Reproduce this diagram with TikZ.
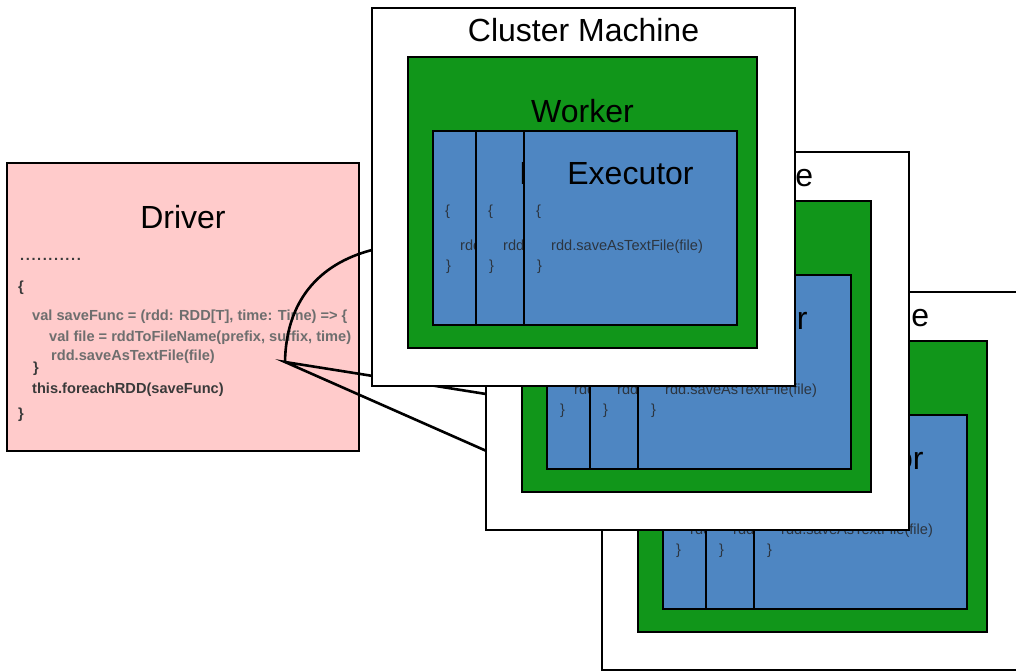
\documentclass[tikz,border=0pt]{standalone}
\usepackage{fontspec}
\setmainfont{Liberation Sans}
\definecolor{driverpink}{HTML}{FFCBCB}
\definecolor{workergreen}{HTML}{11961A}
\definecolor{execblue}{HTML}{4E86C2}
\definecolor{codegray}{HTML}{6E6E6E}
\definecolor{codedark}{HTML}{3A3A3A}
\definecolor{exectext}{HTML}{2C3540}

% one cluster machine: outer box, worker, three stacked executors
% #1 name prefix, #2 x, #3 y of the top left corner
\newcommand\clustermachine[3]{%
  \begin{scope}[shift={(#2,#3)}]
    \node[machinebox] (#1) at (0,0) {};
    \node[titletext] (#1-title) at (211.5,34) {Cluster Machine};
    \node[workerbox] (#1-w) at (36,49) {};
    \node[titletext] (#1-wtitle) at (210.5,115) {Worker};
    \executorpanel{#1-ea}{61}{123}
    \executorpanel{#1-eb}{104}{123}
    \executorpanel{#1-ec}{152}{123}
  \end{scope}}

% one executor panel with its code
\newcommand\executorpanel[3]{%
  \node[execbox] (#1) at (#2,#3) {};
  \node[titletext] (#1-title) at ([xshift=106.5pt,yshift=-54pt]#1.north west) {Executor};
  \node[exectextstyle] (#1-open) at ([xshift=12pt,yshift=-84pt]#1.north west) {\{};
  \node[exectextstyle] (#1-call) at ([xshift=27pt,yshift=-119pt]#1.north west) {rdd.saveAsTextFile(file)};
  \node[exectextstyle] (#1-close) at ([xshift=13pt,yshift=-139pt]#1.north west) {\}};}

% a row of widely spaced dots
\newcommand\dotrow{.\kern1.6pt.\kern1.6pt.\kern1.6pt.\kern1.6pt.\kern1.6pt.\kern1.6pt.\kern1.6pt.\kern1.6pt.\kern1.6pt.\kern1.6pt.}

\begin{document}
\begin{tikzpicture}[x=1pt,y=-1pt,
  box/.style={draw=black, line width=2.6pt, inner sep=0pt, outer sep=0pt, anchor=north west},
  machinebox/.style={box, fill=white, minimum width=423pt, minimum height=378pt},
  workerbox/.style={box, fill=workergreen, minimum width=349pt, minimum height=291pt},
  execbox/.style={box, fill=execblue, minimum width=213pt, minimum height=194pt},
  driverbox/.style={box, fill=driverpink, minimum width=352pt, minimum height=288pt},
  titletext/.style={anchor=base, inner sep=0pt, font=\fontsize{32}{36}\selectfont},
  exectextstyle/.style={anchor=base west, inner sep=0pt, text=exectext, font=\fontsize{14.6}{17}\selectfont},
  code/.style={anchor=base west, inner sep=0pt, text=codegray, font=\bfseries\fontsize{14.6}{17}\selectfont},
  codedk/.style={code, text=codedark},
  link/.style={draw=black, line width=2.6pt}]

\useasboundingbox (0,0) rectangle (1016,671);
\fill[white] (0,0) rectangle (1016,671);

% driver program
\node[driverbox] (driver) at (7,163) {};
\node[titletext] (driver-title) at (183,228) {Driver};
\node[codedk] (c1) at (20,260) {\dotrow};
\node[codedk] (c2) at (18,291) {\{};
\node[code] (c3) at (32,320) {val saveFunc = (rdd: RDD[T], time: Time) => \{};
\node[code] (c4) at (49,341) {val file = rddToFileName(prefix, suffix, time)};
\node[code] (c5) at (51,360) {rdd.saveAsTextFile(file)};
\node[codedk] (c6) at (33,372) {\}};
\node[codedk] (c7) at (32,393) {this.foreachRDD(saveFunc)};
\node[codedk] (c8) at (18,418) {\}};

% fan of connectors from the closure to the machines
\coordinate (fan) at (285,362);
\coordinate (to1) at (372,250);
\coordinate (to2) at (486,394);
\coordinate (to3) at (602,502);
\draw[link] (to3) -- (fan) -- (to2);
\draw[link] (fan) .. controls (286,302) and (318,264) .. (to1);

% cluster machines, back to front
\clustermachine{m3}{602}{292}
\clustermachine{m2}{486}{152}
\clustermachine{m1}{372}{8}

\end{tikzpicture}
\end{document}
